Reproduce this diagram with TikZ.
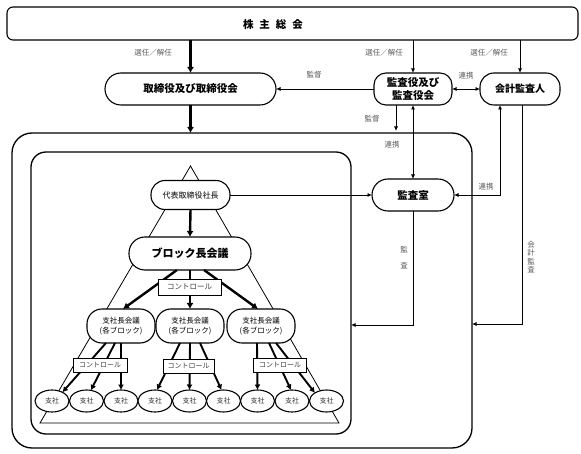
\documentclass[tikz,border=0pt]{standalone}
\usepackage{fontspec}
\setmainfont{Noto Sans CJK JP}
\usetikzlibrary{arrows.meta,shapes.geometric,calc}
\begin{document}
\begin{tikzpicture}[x=1pt,y=-1pt,
  every node/.style={inner sep=0pt, outer sep=0pt},
  stad/.style={draw, fill=white, line width=1.1pt, rounded corners=#1},
  stad/.default=14pt,
  lbl/.style={font=\fontsize{7.5}{8}\selectfont, text=black!65},
  arr/.style={line width=0.8pt, -{Latex[length=4.5pt,width=4pt]}},
  dbl/.style={line width=0.8pt, {Latex[length=4.5pt,width=4pt]}-{Latex[length=4.5pt,width=4pt]}},
  tarr/.style={line width=2.4pt, -{Latex[length=6pt,width=7pt]}},
  marr/.style={line width=1.9pt, -{Latex[length=5.5pt,width=6pt]}},
  ctrl/.style={draw, fill=white, line width=0.9pt, text=black!75},
  shisha/.style={ellipse, draw, fill=white, line width=1.1pt, minimum width=34pt, minimum height=22pt, font=\fontsize{7}{8}\selectfont, text=black!80},
  shicho/.style={stad=15pt, minimum width=68pt, minimum height=34pt, align=center, font=\fontsize{7.5}{10}\selectfont}
]
\useasboundingbox (0,0) rectangle (581,454);

% containers
\node[draw, line width=1.3pt, rounded corners=20pt, minimum width=460pt, minimum height=315pt] (outer) at (242,290.5) {};
\node[draw, line width=1.3pt, rounded corners=15pt, minimum width=320pt, minimum height=282pt] (inner) at (191,293) {};

% pyramid
\draw[line width=0.8pt] (190.5,166) -- (40,423) -- (339,423) -- cycle;

% top level
\node[stad=6pt, minimum width=571pt, minimum height=33pt] (kabu) at (292.5,23.5) {};
\node[font=\bfseries\fontsize{10.5}{12}\selectfont] (kabut) at (273,24) {株\hspace{6pt}主\hspace{6pt}総\hspace{6pt}会};
\node[stad=16pt, minimum width=171pt, minimum height=32pt, font=\bfseries\fontsize{10.5}{12}\selectfont] (tori) at (190.5,89) {取締役及び取締役会};
\node[stad=12pt, minimum width=78pt, minimum height=32pt, align=center, font=\bfseries\fontsize{10.5}{12.5}\selectfont] (kyk) at (413,89) {監査役及び\\監査役会};
\node[stad=14pt, minimum width=80pt, minimum height=32pt, font=\bfseries\fontsize{10}{12}\selectfont] (kaikei) at (520,89) {会計監査人};

\node[stad=14pt, minimum width=79pt, minimum height=29pt, font=\fontsize{8}{9}\selectfont] (daihyo) at (190.5,195) {代表取締役社長};
\node[stad=16pt, minimum width=82pt, minimum height=32pt, font=\bfseries\fontsize{10.5}{12}\selectfont] (shitsu) at (413,195) {監査室};
\node[stad=16pt, minimum width=122pt, minimum height=33pt, font=\bfseries\fontsize{11}{12}\selectfont] (blk) at (190,253.5) {ブロック長会議};

\node[shicho] (b1) at (121,326) {支社長会議\\(各ブロック)};
\node[shicho] (b2) at (190,326) {支社長会議\\(各ブロック)};
\node[shicho] (b3) at (261,326) {支社長会議\\(各ブロック)};

\node[shisha] (s1) at (52,401) {支社};
\node[shisha] (s2) at (86.5,401) {支社};
\node[shisha] (s3) at (121,401) {支社};
\node[shisha] (s4) at (155,401) {支社};
\node[shisha] (s5) at (189.5,401) {支社};
\node[shisha] (s6) at (223.5,401) {支社};
\node[shisha] (s7) at (257.5,401) {支社};
\node[shisha] (s8) at (292,401) {支社};
\node[shisha] (s9) at (326.5,401) {支社};

% connectors
\draw[tarr] (kabu.south -| tori.north) -- (tori.north);
\draw[arr] (kabu.south -| kyk.north) -- (kyk.north);
\draw[arr] (kabu.south -| kaikei.north) -- (kaikei.north);
\draw[arr] (kyk.west) -- (tori.east);
\draw[dbl] (kyk.east) -- (kaikei.west);
\draw[tarr] (tori.south) -- (tori.south |- outer.north);
\draw[arr, shorten >=2pt] ([xshift=-17pt]kyk.south) -- ([xshift=-17pt]kyk.south |- outer.north);
\draw[dbl] (kyk.south) -- (shitsu.north);
\draw[dbl] ([xshift=-20pt]kaikei.south) |- (shitsu.east);
\draw[arr] ([xshift=2pt]kaikei.south) |- ([yshift=-33.5pt]outer.east);
\draw[arr] (daihyo.east) -- (shitsu.west);
\draw[arr] (shitsu.south) |- ([yshift=-32pt]inner.east);

\draw[tarr] (daihyo.south) -- (blk.north);
\draw[tarr] ([xshift=-13pt]blk.south) -- ([xshift=2pt]b1.north);
\draw[tarr] (blk.south) -- (b2.north);
\draw[tarr] ([xshift=14pt]blk.south) -- ([xshift=-3pt]b3.north);

\draw[marr] ([xshift=-15pt]b1.south) -- (s1.40);
\draw[marr] ([xshift=-6pt]b1.south) -- (s2.68);
\draw[marr] (b1.south) -- (s3.north);
\draw[marr] ([xshift=-10pt]b2.south) -- (s4.80);
\draw[marr] (b2.south) -- (s5.north);
\draw[marr] ([xshift=10pt]b2.south) -- (s6.100);
\draw[marr] ([xshift=-4pt]b3.south) -- (s7.north);
\draw[marr] ([xshift=8pt]b3.south) -- (s8.95);
\draw[marr] ([xshift=15pt]b3.south) -- (s9.145);

% control boxes (over the connectors)
\node[ctrl, minimum width=63pt, minimum height=16pt, font=\fontsize{7.5}{8}\selectfont] (c0) at (189.5,287) {コントロール};
\node[ctrl, minimum width=54pt, minimum height=14pt, font=\fontsize{7}{8}\selectfont] (c1) at (100,365) {コントロール};
\node[ctrl, minimum width=51pt, minimum height=14pt, font=\fontsize{7}{8}\selectfont] (c2) at (188.5,366) {コントロール};
\node[ctrl, minimum width=53pt, minimum height=14pt, font=\fontsize{7}{8}\selectfont] (c3) at (280,365) {コントロール};

% labels
\node[lbl] (l1) at (153,53) {選任／解任};
\node[lbl] (l2) at (384,53) {選任／解任};
\node[lbl] (l3) at (489,53) {選任／解任};
\node[lbl] (l4) at (314,75) {監督};
\node[lbl] (l5) at (466,76) {連携};
\node[lbl] (l6) at (372,119) {監督};
\node[lbl] (l7) at (392,145) {連携};
\node[lbl] (l8) at (486,187) {連携};
\node[lbl, align=center, font=\fontsize{7.5}{16}\selectfont] (l9) at (404,258) {監\\査};
\node[lbl, align=center, font=\fontsize{7.5}{8.2}\selectfont] (l10) at (531,257) {会\\計\\監\\査};
\end{tikzpicture}
\end{document}
